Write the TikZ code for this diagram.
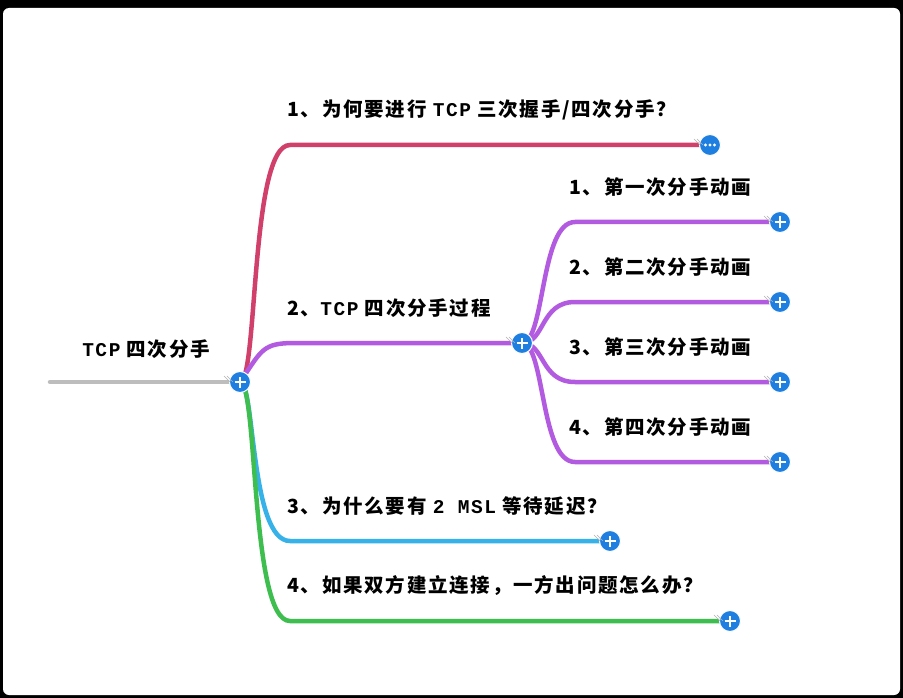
\documentclass[tikz,border=0pt]{standalone}
\usepackage{fontspec}
\setmonofont[LetterSpace=8]{Liberation Mono}
\newfontfamily\cjk[LetterSpace=9]{Noto Sans CJK SC}
\usetikzlibrary{positioning}
\definecolor{rootgray}{HTML}{BDBDBD}
\definecolor{redline}{HTML}{D0406A}
\definecolor{purpleline}{HTML}{B35BE0}
\definecolor{blueline}{HTML}{36B2E8}
\definecolor{greenline}{HTML}{3EBE4E}
\definecolor{knob}{HTML}{1E7FE0}
\newcommand{\tcp}[1]{{\ttfamily\bfseries #1}\ }
\newcommand{\grip}[1]{\draw[gray!60, thin] ([xshift=-16pt,yshift=6pt]#1.center) -- ++(6pt,-6pt) ([xshift=-13pt,yshift=6pt]#1.center) -- ++(6pt,-6pt);}
\begin{document}
\begin{tikzpicture}[x=1pt, y=-1pt, line width=4.5pt, line cap=round,
  plus node/.style={circle, fill=knob, draw=white, line width=1pt, minimum size=21pt, inner sep=0pt,
    path picture={\draw[white, line width=2.2pt, line cap=butt] (path picture bounding box.center) ++(-5.5pt,0) -- ++(11pt,0)
      (path picture bounding box.center) ++(0,-5.5pt) -- ++(0,11pt);}},
  dots node/.style={circle, fill=knob, draw=white, line width=1pt, minimum size=21pt, inner sep=0pt,
    path picture={\foreach \dx in {-4.5,0,4.5} \fill[white] ([xshift=\dx pt]path picture bounding box.center) circle (1.6pt);}},
  topic/.style={anchor=south west, inner sep=0pt, font=\cjk\bfseries\fontsize{19.5}{20}\selectfont}]

  % frame
  \fill[black] (0,0) rectangle (903,698);
  \fill[white, rounded corners=6pt] (3,8) rectangle (900,695);

  % nodes
  \coordinate (start) at (50,382);
  \node[plus node] (root) at (240,382) {};
  \node[dots node] (why) at (710,145) {};
  \node[plus node] (proc) at (522,343) {};
  \node[plus node] (s1) at (780,222) {};
  \node[plus node] (s2) at (780,302) {};
  \node[plus node] (s3) at (780,382) {};
  \node[plus node] (s4) at (780,462) {};
  \node[plus node] (msl) at (610,541) {};
  \node[plus node] (fail) at (730,621) {};

  % connectors
  \draw[rootgray] (start) -- (root.center);
  \draw[redline] (root.center) .. controls (258,382) and (250,145) .. (290,145) -- (why.center);
  \draw[purpleline] (root.center) .. controls (262,350) and (262,343) .. (295,343) -- (proc.center);
  \draw[blueline] (root.center) .. controls (255,382) and (250,541) .. (290,541) -- (msl.center);
  \draw[greenline] (root.center) .. controls (258,382) and (250,621) .. (290,621) -- (fail.center);
  \foreach \s/\y in {s1/222, s2/302, s3/382, s4/462}
    \draw[purpleline] (proc.center) .. controls (545,343) and (540,\y) .. (575,\y) -- (\s.center);

  % knobs on top
  \foreach \n/\st in {root/plus node, why/dots node, proc/plus node, s1/plus node, s2/plus node, s3/plus node, s4/plus node, msl/plus node, fail/plus node}
    \node[\st] at (\n) {};
  \foreach \n in {root, why, proc, s1, s2, s3, s4, msl, fail} {\grip{\n}}

  % labels
  \node[topic] (rootlabel) at (80,361) {\tcp{TCP}四次分手};
  \node[topic] (whylabel) at (285,122) {1、为何要进行\ \tcp{TCP}三次握手/四次分手？};
  \node[topic] (proclabel) at (285,320) {2、\tcp{TCP}四次分手过程};
  \node[topic] (s1label) at (567,199) {1、第一次分手动画};
  \node[topic] (s2label) at (567,279) {2、第二次分手动画};
  \node[topic] (s3label) at (567,359) {3、第三次分手动画};
  \node[topic] (s4label) at (567,439) {4、第四次分手动画};
  \node[topic] (msllabel) at (285,518) {3、为什么要有\ \tcp{2 MSL}等待延迟？};
  \node[topic] (faillabel) at (285,598) {4、如果双方建立连接，一方出问题怎么办？};
\end{tikzpicture}
\end{document}
